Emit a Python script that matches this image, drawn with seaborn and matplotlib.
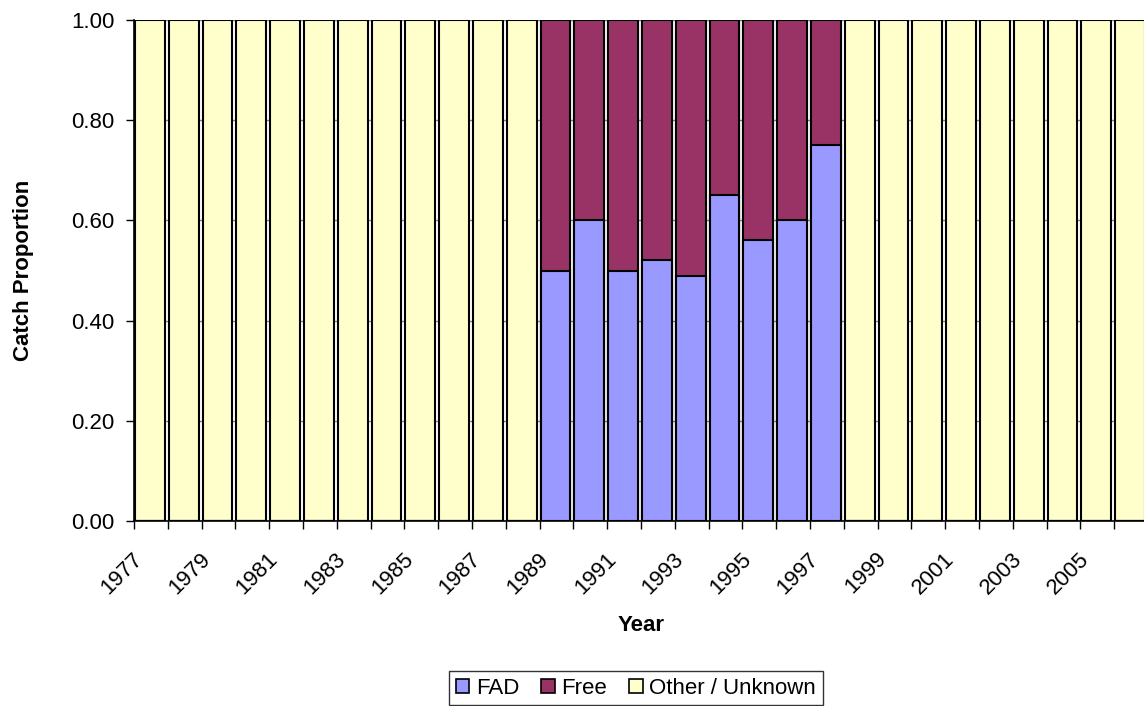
import matplotlib
matplotlib.use("Agg")
import matplotlib.pyplot as plt
import seaborn as sns
import pandas as pd
import numpy as np
from matplotlib.patches import Patch
from matplotlib.ticker import FixedLocator

years = list(range(1977, 2007))
fad = [0]*12 + [0.50, 0.60, 0.50, 0.52, 0.49, 0.65, 0.56, 0.60, 0.75] + [0]*9
free = [0]*12 + [0.50, 0.40, 0.50, 0.48, 0.51, 0.35, 0.44, 0.40, 0.25] + [0]*9
other = [1.0]*12 + [0]*9 + [1.0]*9

series_names = ["FAD", "Free", "Other / Unknown"]
colors = {"FAD": "#9999FF", "Free": "#993366", "Other / Unknown": "#FFFFCC"}

df = pd.DataFrame({"Year": [str(y) for y in years], "FAD": fad, "Free": free, "Other": other})
df["cum_free"] = df["FAD"] + df["Free"]
df["cum_total"] = df["cum_free"] + df["Other"]

sns.set_theme(style="white")
plt.rcParams["font.family"] = ["Liberation Sans", "DejaVu Sans"]
plt.rcParams["text.color"] = "black"
plt.rcParams["axes.labelcolor"] = "black"
plt.rcParams["xtick.color"] = "black"
plt.rcParams["ytick.color"] = "black"

W, H = 1144, 706
fig = plt.figure(figsize=(W/100, H/100), dpi=100)
cat_px = 33.8
n = len(years)
ax = fig.add_axes([134/W, 1 - 521/H, n*cat_px/W, (521 - 20)/H])

order = df["Year"].tolist()
w = 0.88
kw = dict(edgecolor="black", linewidth=1.5, width=w, order=order, ax=ax, zorder=3)
sns.barplot(data=df, x="Year", y="cum_total", color=colors["Other / Unknown"], saturation=1, **kw)
sns.barplot(data=df, x="Year", y="cum_free", color=colors["Free"], saturation=1, **kw)
sns.barplot(data=df, x="Year", y="FAD", color=colors["FAD"], saturation=1, **kw)

x0 = -0.47
ax.set_xlim(x0, x0 + n)
ax.set_ylim(0, 1.0)
yt = np.arange(0, 1.01, 0.2)
ax.set_yticks(yt)
ax.set_yticklabels([f"{v:.2f}" for v in yt], fontsize=16, color="black")
ax.yaxis.grid(True, color="#808080", linewidth=1.0, zorder=0)
ax.set_axisbelow(True)

lab_shift = -0.3
ax.set_xticks([i + lab_shift for i in range(0, n, 2)])
ax.set_xticklabels([years[i] for i in range(0, n, 2)], rotation=45, ha="right", va="center",
                   rotation_mode="anchor", fontsize=16, color="black")
ax.xaxis.set_minor_locator(FixedLocator([x0 + i for i in range(n + 1)]))
ax.tick_params(axis="x", which="major", length=0, pad=25)
ax.tick_params(axis="x", which="minor", length=6, width=1, color="black", direction="out", bottom=True)
ax.tick_params(axis="y", length=6, width=1, color="black", direction="out", left=True, pad=8)

for s in ["top", "right"]:
    ax.spines[s].set_visible(False)
for s in ["left", "bottom"]:
    ax.spines[s].set_color("black")
    ax.spines[s].set_linewidth(1.2)

ax.set_xlabel("Year", fontsize=16, fontweight="bold", labelpad=12, color="black")
ax.set_ylabel("Catch Proportion", fontsize=16, fontweight="bold", labelpad=27, color="black")

handles = [Patch(facecolor=colors[nm], edgecolor="black", linewidth=1.2) for nm in series_names]
leg = fig.legend(handles, series_names, loc="center", bbox_to_anchor=(636/W, 1 - 688/H),
                 ncol=3, fontsize=16, frameon=True, fancybox=False, edgecolor="black",
                 handlelength=0.6, handleheight=0.6, handletextpad=0.3, columnspacing=1.0,
                 borderpad=0.3, borderaxespad=0, labelcolor="black")
leg.get_frame().set_linewidth(1.0)

fig.savefig("out.png", dpi=100)
